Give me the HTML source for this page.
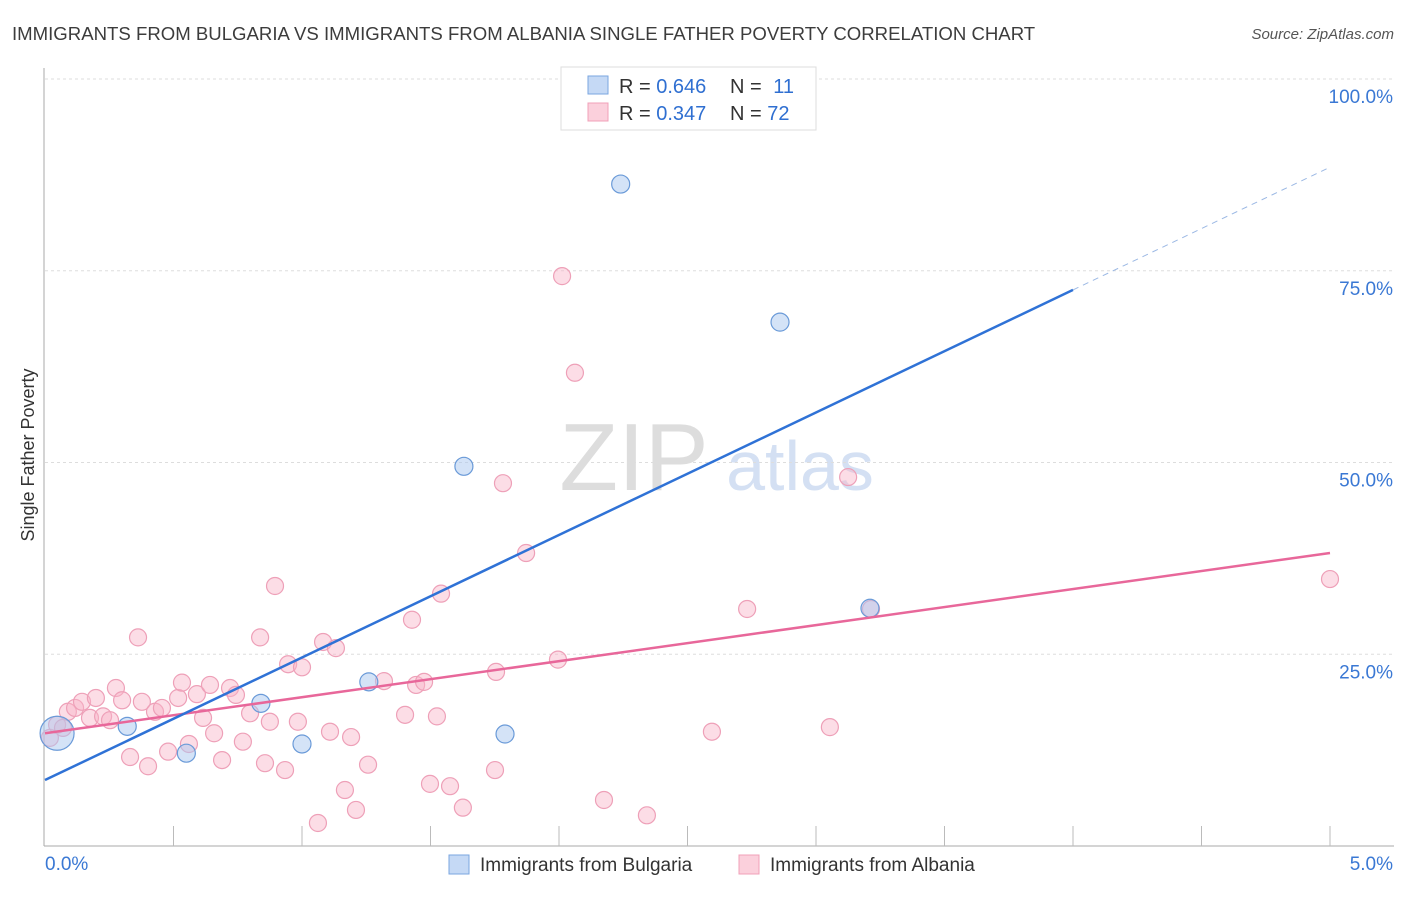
<!DOCTYPE html>
<html><head><meta charset="utf-8"><style>
body{margin:0;background:#fff;font-family:"Liberation Sans",sans-serif}
svg text{font-family:"Liberation Sans",sans-serif}
</style></head><body>
<svg id="c" width="1406" height="892">
<text x="12" y="40" font-size="18.6" fill="#3c3c3c">IMMIGRANTS FROM BULGARIA VS IMMIGRANTS FROM ALBANIA SINGLE FATHER POVERTY CORRELATION CHART</text>
<text x="1394" y="39" font-size="15" fill="#555" text-anchor="end" font-style="italic">Source: ZipAtlas.com</text>
<text x="34" y="455" font-size="18" fill="#333" text-anchor="middle" transform="rotate(-90 34 455)">Single Father Poverty</text>
<text x="634" y="490" font-size="96" fill="#ddd" font-family="Liberation Serif" text-anchor="middle">ZIP</text>
<text x="800" y="490" font-size="70" fill="#d4e0f3" text-anchor="middle">atlas</text>
<g id="grid"></g><g id="pts"></g><g id="lines"></g>
<g>
<rect x="561" y="67" width="255" height="63" fill="#fff" stroke="#ddd"/>
<rect x="588" y="76" width="20" height="18" fill="#c5d9f5" stroke="#7aa6e0"/>
<rect x="588" y="103" width="20" height="18" fill="#fbd0dc" stroke="#f0a0b8"/>
<text x="619" y="93" font-size="20" fill="#333">R = <tspan fill="#2f6fd1">0.646</tspan></text>
<text x="730" y="93" font-size="20" fill="#333">N = <tspan fill="#2f6fd1" dx="6">11</tspan></text>
<text x="619" y="120" font-size="20" fill="#333">R = <tspan fill="#2f6fd1">0.347</tspan></text>
<text x="730" y="120" font-size="20" fill="#333">N = <tspan fill="#2f6fd1">72</tspan></text>
</g>
<g>
<rect x="449" y="855" width="20" height="19" fill="#c5d9f5" stroke="#7aa6e0"/>
<text x="480" y="871" font-size="19" fill="#333">Immigrants from Bulgaria</text>
<rect x="739" y="855" width="20" height="19" fill="#fbd0dc" stroke="#f0a0b8"/>
<text x="770" y="871" font-size="19" fill="#333">Immigrants from Albania</text>
</g>
</svg>
<script>
const xTicks=[0,0.5,1,1.5,2,2.5,3,3.5,4,4.5,5];
const yTicks=[25,50,75,100];
const yTickLabels=["25.0%","50.0%","75.0%","100.0%"];
const bulX=[0.047,0.32,0.55,0.84,1.0,1.26,1.63,1.79,2.24,2.86,3.21];
const bulY=[14.7,15.6,12.1,18.6,13.3,21.4,49.5,14.6,86.3,68.3,31.0];
const bulR=[17,9,9,9,9,9,9,9,9,9,9];
const albPx=[[50,738],[57,725],[63,728],[68,712],[75,708],[82,702],[90,718],[96,698],[103,716],[110,720],[116,688],[122,700],[130,757],[138,637],[142,702],[148,766],[155,712],[162,708],[168,752],[178,698],[182,683],[189,744],[197,694],[203,718],[210,685],[214,733],[222,760],[230,688],[236,695],[243,742],[250,713],[260,637],[265,763],[270,722],[275,586],[285,770],[288,664],[298,722],[302,667],[318,823],[323,642],[330,732],[336,648],[345,790],[351,737],[356,810],[368,765],[384,681],[405,715],[412,620],[416,685],[424,682],[430,784],[437,716],[441,594],[450,786],[463,808],[495,770],[496,672],[503,483],[526,553],[558,660],[562,276],[575,373],[604,800],[647,815],[712,732],[747,609],[830,727],[848,477],[871,609],[1330,579]];
const albX=albPx.map(p=>+((p[0]-45)/257).toFixed(3));
const albY=albPx.map(p=>+((846-p[1])/7.67).toFixed(1));
const bulLine=[[0,8.6],[4.0,72.5]], bulDash=[[4.0,72.5],[5.0,88.5]];
const albLine=[[0,14.7],[5.0,38.2]];
const X=v=>45+v*257, Y=v=>846-v*7.67;
const NS='http://www.w3.org/2000/svg';
function mk(p,t,a){const e=document.createElementNS(NS,t);for(const k in a)e.setAttribute(k,a[k]);p.appendChild(e);return e;}
const g=document.getElementById('grid');
yTicks.forEach((t,i)=>{const l=mk(g,'line',{x1:45,x2:1394,y1:Y(t),y2:Y(t),stroke:'#ddd','stroke-dasharray':'3,3'});


const tx=mk(g,'text',{x:1393,y:Y(t)+24,'font-size':19,fill:'#3a78d4','text-anchor':'end'});tx.textContent=yTickLabels[i];

});
mk(g,'line',{x1:44,x2:44,y1:68,y2:846,stroke:'#aaa'});
mk(g,'line',{x1:44,x2:1394,y1:846,y2:846,stroke:'#aaa'});
xTicks.forEach(t=>{if(t>0){const l=mk(g,'line',{x1:X(t),x2:X(t),y1:826,y2:846,stroke:'#bbb'});

}});
const x0=mk(g,'text',{x:45,y:870,'font-size':19,fill:'#3a78d4'});x0.textContent='0.0%';


const x1=mk(g,'text',{x:1393,y:870,'font-size':19,fill:'#3a78d4','text-anchor':'end'});x1.textContent='5.0%';


const P=document.getElementById('pts');
albX.forEach((v,i)=>{const c=mk(P,'circle',{cx:X(v),cy:Y(albY[i]),r:8.5,fill:'rgba(248,180,200,0.45)',stroke:'#eea0b8','stroke-width':1.2});

});
bulX.forEach((v,i)=>{const c=mk(P,'circle',{cx:X(v),cy:Y(bulY[i]),r:bulR[i],fill:'rgba(170,200,240,0.5)',stroke:'#6a9ad8','stroke-width':1.2});

});
const L=document.getElementById('lines');
let a=mk(L,'line',{x1:X(albLine[0][0]),y1:Y(albLine[0][1]),x2:X(albLine[1][0]),y2:Y(albLine[1][1]),stroke:'#e8679a','stroke-width':2.5});


let b=mk(L,'line',{x1:X(bulLine[0][0]),y1:Y(bulLine[0][1]),x2:X(bulLine[1][0]),y2:Y(bulLine[1][1]),stroke:'#2f72d6','stroke-width':2.5});


let d=mk(L,'line',{x1:X(bulDash[0][0]),y1:Y(bulDash[0][1]),x2:X(bulDash[1][0]),y2:Y(bulDash[1][1]),stroke:'#9bb8e4','stroke-width':1,'stroke-dasharray':'6,5'});


</script>
</body></html>
